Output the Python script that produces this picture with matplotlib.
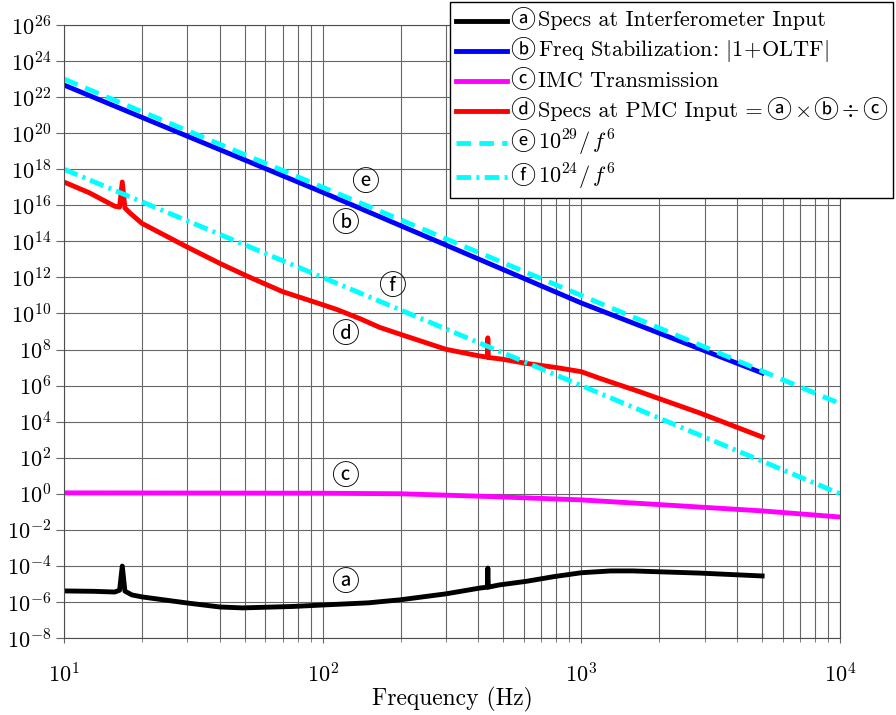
import matplotlib
matplotlib.use("Agg")
import matplotlib.pyplot as plt
import numpy as np
from matplotlib.lines import Line2D
from matplotlib.offsetbox import (AnchoredOffsetbox, DrawingArea, HPacker,
                                  TextArea, VPacker)
from matplotlib.ticker import FixedLocator, LogLocator, NullLocator

plt.rcParams["font.family"] = ["cmr10", "DejaVu Sans"]
plt.rcParams["mathtext.fontset"] = "cm"
plt.rcParams["axes.formatter.use_mathtext"] = True

# values, as log10 of the magnitude
freq_a = [10, 13, 15.7, 16.4, 16.8, 17.2, 18.3, 20, 30, 40, 49, 77, 100, 150, 200,
          300, 405, 433, 435, 437, 480, 617, 780, 1000, 1300, 1580, 2870, 5000]
log_a = [-5.39, -5.41, -5.45, -5.35, -4.01, -5.4, -5.61, -5.72, -6.06, -6.28, -6.33,
         -6.25, -6.17, -6.05, -5.88, -5.55, -5.23, -5.18, -4.12, -5.18, -5.06, -4.85,
         -4.6, -4.38, -4.28, -4.28, -4.4, -4.56]

freq_b = [10, 100, 1000, 5000]
log_b = [22.67, 16.72, 10.58, 6.7]

freq_c = [10, 100, 200, 435, 1000, 2000, 5000, 10000]
log_c = [0.05, 0.03, 0.0, -0.15, -0.34, -0.6, -0.95, -1.29]

freq_d = [10, 12.5, 15.7, 16.4, 16.8, 17.2, 18, 20, 29.8, 40, 50.9, 70, 90, 113, 140,
          166, 203, 300, 405, 433, 435, 437, 497, 607, 800, 1000, 1180, 1680, 2870,
          5000]
log_d = [17.29, 16.7, 15.95, 15.9, 17.29, 15.85, 15.57, 15.0, 13.7, 12.78, 12.08,
         11.21, 10.7, 10.23, 9.7, 9.23, 8.81, 8.01, 7.64, 7.58, 8.65, 7.56, 7.46,
         7.24, 7.0, 6.77, 6.4, 5.66, 4.48, 3.15]

freq_ef = [10, 10000]
log_e = [23, 5]   # 1e29 / f^6
log_f = [18, 0]   # 1e24 / f^6

# legend rows: pieces of text, circled letters go in their own font
legend_rows = [
    ["ⓐ", "Specs at Interferometer Input"],
    ["ⓑ", r"Freq Stabilization: $|1\!+\!\mathrm{OLTF}|$"],
    ["ⓒ", "IMC Transmission"],
    ["ⓓ", "Specs at PMC Input =", "ⓐ", r"$\times$", "ⓑ", r"$\div$", "ⓒ"],
    ["ⓔ", r"$10^{29}/\,f^6$"],
    ["ⓕ", r"$10^{24}/\,f^6$"],
]

# in-plot tags: (letter, freq, log10 value)
tags = [("ⓔ", 146, 17.24), ("ⓑ", 122, 14.96), ("ⓕ", 185, 11.47),
        ("ⓓ", 122, 8.81), ("ⓒ", 122, 0.93), ("ⓐ", 122, -4.95)]

colors = ["black", "#0000ff", "#ff00ff", "#ff0000", "#00ffff", "#00ffff"]
styles = ["-", "-", "-", "-", (0, (3, 1.7)), (0, (3, 1.1, 0.6, 1.1))]
circled = set("ⓐⓑⓒⓓⓔⓕ")
circ_font = ["Noto Sans CJK JP", "DejaVu Sans"]

W, H = 896, 715
fig = plt.figure(figsize=(W / 100, H / 100), dpi=100)
ax = fig.add_axes([64 / W, 1 - 638 / H, 776 / W, 613 / H])

lw = 3.5
series = [(freq_a, log_a), (freq_b, log_b), (freq_c, log_c), (freq_d, log_d),
          (freq_ef, log_e), (freq_ef, log_f)]
for (fx, fy), c, ls in zip(series, colors, styles):
    ax.plot(fx, 10.0 ** np.array(fy), color=c, lw=lw, ls=ls,
            solid_joinstyle="round")

for letter, fx, fy in tags:
    ax.text(fx, 10.0 ** fy, letter, fontsize=20, family=circ_font,
            ha="center", va="center")

ax.set_xscale("log")
ax.set_yscale("log")
ax.set_xlim(10, 1e4)
ax.set_ylim(1e-8, 1e26)
ax.yaxis.set_major_locator(FixedLocator([10.0 ** k for k in range(-8, 27, 2)]))
ax.yaxis.set_minor_locator(NullLocator())
ax.xaxis.set_minor_locator(LogLocator(base=10, subs=np.arange(2, 10)))

ax.grid(True, which="major", color="0.4", lw=0.8)
ax.grid(True, which="minor", axis="x", color="0.4", lw=0.8)
ax.set_axisbelow(True)
ax.tick_params(axis="x", which="major", direction="out", length=3.5, pad=14,
               labelsize=16, color="0.4")
ax.tick_params(axis="x", which="minor", direction="out", length=3, color="0.4")
ax.tick_params(axis="y", direction="out", length=6, pad=3, labelsize=16, color="0.4")
for s in ax.spines.values():
    s.set_color("0.3")
    s.set_linewidth(0.8)

ax.set_xlabel("Frequency (Hz)", fontsize=17, labelpad=0)

# hand-built legend so the circled letters can use their own font
rows = []
for pieces, c, ls in zip(legend_rows, colors, styles):
    key = DrawingArea(37, 10)
    key.add_artist(Line2D([0, 37], [5, 5], color=c, lw=lw, ls=ls))
    parts = [key]
    for p in pieces:
        if p in circled:
            parts.append(TextArea(p, textprops=dict(fontsize=18, family=circ_font)))
        else:
            parts.append(TextArea(p, textprops=dict(fontsize=16)))
    rows.append(HPacker(children=parts, align="center", pad=0, sep=2.2))
box = VPacker(children=rows, align="left", pad=0, sep=3)
anchored = AnchoredOffsetbox(loc="upper right", child=box, pad=0.4, borderpad=0,
                             frameon=True, bbox_to_anchor=(893 / W, 1 - 2 / H),
                             bbox_transform=fig.transFigure)
anchored.patch.set_edgecolor("black")
anchored.patch.set_linewidth(1.0)
anchored.set_zorder(10)
ax.add_artist(anchored)

fig.savefig("out.png", dpi=100)
